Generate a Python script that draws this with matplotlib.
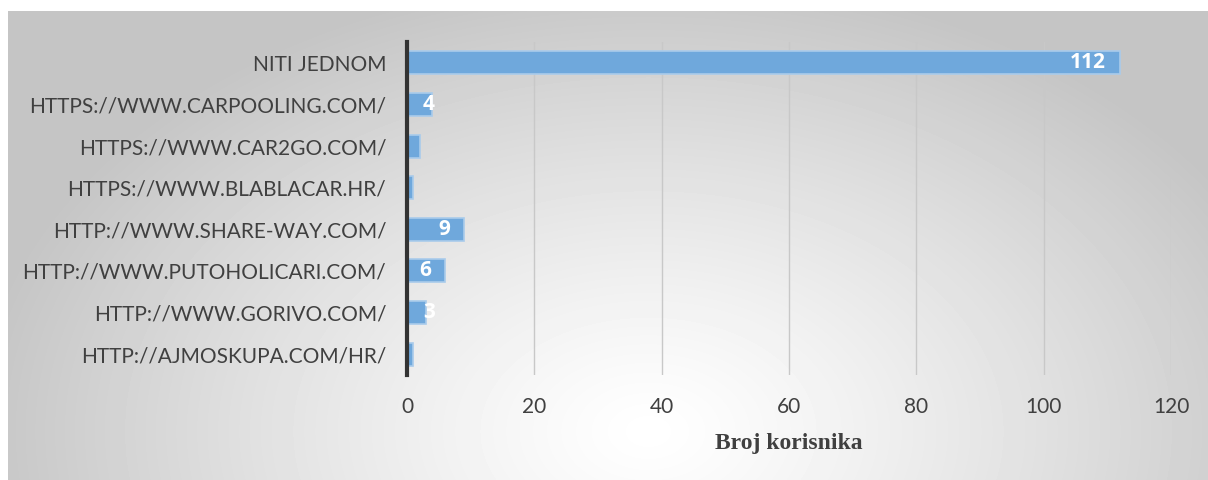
import numpy as np
import matplotlib
matplotlib.use("Agg")
import matplotlib.pyplot as plt
from matplotlib.transforms import TransformedBbox

categories = ["NITI JEDNOM", "HTTPS://WWW.CARPOOLING.COM/", "HTTPS://WWW.CAR2GO.COM/",
              "HTTPS://WWW.BLABLACAR.HR/", "HTTP://WWW.SHARE-WAY.COM/",
              "HTTP://WWW.PUTOHOLICARI.COM/", "HTTP://WWW.GORIVO.COM/",
              "HTTP://AJMOSKUPA.COM/HR/"]
values = [112, 4, 2, 1, 9, 6, 3, 1]
xticks = [0, 20, 40, 60, 80, 100, 120]
xlabel = "Broj korisnika"

W, H = 1208, 480
fig = plt.figure(figsize=(W / 100, H / 100), dpi=100)

# background frame with radial gradient
bg = fig.add_axes([8 / W, 0, 1 - 8 / W, 1 - 11 / H])
bg.axis('off')
yy, xx = np.mgrid[0:469, 0:1200]
r = np.sqrt(((xx - 640) / 680.0) ** 2 + ((yy - 420) / 460.0) ** 2)
shade = 1 - 0.23 * np.clip(r, 0, 1) ** 1.2
bg.imshow(shade, cmap="gray", vmin=0, vmax=1, aspect="auto", interpolation="bilinear")

ax = fig.add_axes([407 / W, 1 - 375 / H, (1171 - 407) / W, (375 - 42) / H])
ax.set_facecolor("none")

y = np.arange(len(categories))
bars = ax.barh(y, values, height=0.55, color="#6fa8dc", edgecolor="#a9cbeb", linewidth=1.2, zorder=3)
ax.set_ylim(len(categories) - 0.5, -0.5)
ax.set_xlim(0, 120)
ax.set_xticks(xticks)
ax.set_yticks(y)
ax.set_yticklabels(categories)
ax.grid(axis="x", color="#c8c8c8", linewidth=1, zorder=0)
for s in ["top", "right", "bottom"]:
    ax.spines[s].set_visible(False)
ax.spines["left"].set_linewidth(3)
ax.spines["left"].set_color("#333333")
ax.spines["left"].set_zorder(4)
ax.tick_params(length=0, labelsize=15, colors="#404040")
ax.tick_params(axis="x", pad=16)
ax.tick_params(axis="y", pad=15)
for lab in ax.get_xticklabels() + ax.get_yticklabels():
    lab.set_family("Lato")

# data labels at inside end, clipped to the bar (short bars hide them)
for b, v in zip(bars, values):
    if v < 3:
        continue
    xpos = max(v - 2.2, 2.5)
    ha = "right" if v > 5 else "left"
    t = ax.text(xpos, b.get_y() + b.get_height() / 2, str(v), ha=ha, va="center",
                color="white", fontsize=15, fontweight="bold", family="Open Sans", zorder=5)
    t.set_clip_box(TransformedBbox(b.get_bbox(), ax.transData))

ax.set_xlabel(xlabel, family="Liberation Serif", fontweight="bold", fontsize=17,
              color="#404040", labelpad=11)

fig.savefig("out.png", dpi=100)
